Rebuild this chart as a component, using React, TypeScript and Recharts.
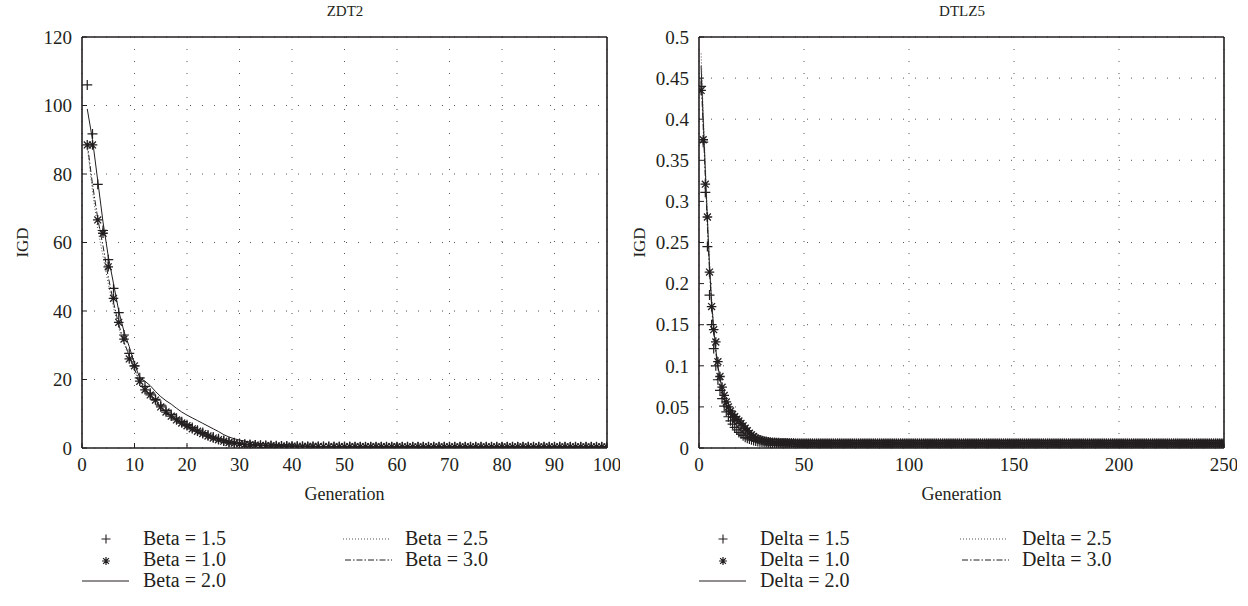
import { CartesianGrid, Label, Line, LineChart, XAxis, YAxis } from 'recharts'

const FONT = '"Liberation Serif", "Times New Roman", serif'
const INK = '#231f20'

// ZDT2 panel: IGD per generation (1..100), first 40 generations read per series, then the shared flat tail
const zdt2Beta15Head = [
  106, 91.7, 77, 63.5, 55, 46.6, 39.5, 33, 27.6, 24,
  20.5, 18, 16, 14.2, 12.5, 11, 9.8, 8.7, 7.7, 6.8,
  6, 5.2, 4.5, 3.8, 3.2, 2.7, 2.2, 1.8, 1.5, 1.3,
  1.1, 1.0, 0.9, 0.8, 0.75, 0.7, 0.65, 0.6, 0.55, 0.5,
]
const zdt2Beta10Head = [
  88.5, 88.5, 66.6, 62.7, 52.9, 43.7, 36.7, 31.8, 26, 24,
  19.5, 17, 15.5, 14, 12, 10.5, 9.3, 8.2, 7.3, 6.5,
  5.6, 4.9, 4.2, 3.5, 2.9, 2.4, 2.0, 1.6, 1.4, 1.2,
  1.05, 0.95, 0.85, 0.75, 0.7, 0.65, 0.6, 0.55, 0.5, 0.5,
]
const zdt2Beta20Head = [
  99, 90, 78, 66, 56, 48, 40, 34, 29.6, 24.5,
  20.5, 19.5, 18.2, 16.5, 15, 13.8, 12.8, 11.6, 10.5, 9.6,
  8.8, 8, 7.2, 6.4, 5.6, 4.8, 3.9, 3.2, 2.7, 2.3,
  2.0, 1.7, 1.5, 1.3, 1.2, 1.1, 1.0, 0.95, 0.9, 0.85,
]
const zdt2Beta25Head = [
  88, 75, 64, 56, 48, 41, 35, 30.5, 26.5, 22.5,
  19, 16.5, 14.8, 13.2, 11.6, 10.2, 9, 8, 7, 6.2,
  5.4, 4.7, 4, 3.4, 2.8, 2.3, 1.9, 1.6, 1.3, 1.1,
  0.95, 0.85, 0.75, 0.7, 0.65, 0.6, 0.55, 0.5, 0.5, 0.45,
]
const zdt2Beta30Head = [
  89, 77, 67, 59, 50, 42.5, 36, 31, 27, 23,
  19.5, 17, 15.2, 13.6, 12, 10.6, 9.4, 8.3, 7.3, 6.4,
  5.6, 4.9, 4.2, 3.6, 3.0, 2.5, 2.1, 1.7, 1.4, 1.2,
  1.0, 0.9, 0.8, 0.72, 0.66, 0.6, 0.56, 0.52, 0.5, 0.48,
]
const zdt2Tail = [
  0.48, 0.46, 0.45, 0.44, 0.43, 0.42, 0.41, 0.4, 0.4, 0.39,
  0.39, 0.38, 0.38, 0.37, 0.37, 0.37, 0.36, 0.36, 0.36, 0.36,
  0.35, 0.35, 0.35, 0.35, 0.35, 0.35, 0.35, 0.35, 0.35, 0.35,
  0.35, 0.35, 0.35, 0.35, 0.35, 0.35, 0.35, 0.35, 0.35, 0.35,
  0.35, 0.35, 0.35, 0.35, 0.35, 0.35, 0.35, 0.35, 0.35, 0.35,
  0.35, 0.35, 0.35, 0.35, 0.35, 0.35, 0.35, 0.35, 0.35, 0.35,
]

// DTLZ5 panel: IGD per generation (1..250), first 45 generations read per series, then the shared flat tail
const dtlz5Delta15Head = [
  0.44, 0.372, 0.311, 0.245, 0.186, 0.15, 0.121, 0.1, 0.083, 0.07,
  0.06, 0.051, 0.044, 0.038, 0.033, 0.029, 0.025, 0.022, 0.019, 0.017,
  0.015, 0.013, 0.012, 0.011, 0.01, 0.0092, 0.0085, 0.008, 0.0076, 0.0072,
  0.0069, 0.0066, 0.0064, 0.0062, 0.006, 0.006, 0.0059, 0.0058, 0.0058, 0.0057,
  0.0057, 0.0056, 0.0056, 0.0055, 0.0055,
]
const dtlz5Delta10Head = [
  0.435, 0.375, 0.321, 0.281, 0.214, 0.172, 0.144, 0.129, 0.105, 0.087,
  0.074, 0.064, 0.056, 0.05, 0.045, 0.041, 0.038, 0.035, 0.033, 0.03,
  0.027, 0.024, 0.021, 0.018, 0.016, 0.014, 0.012, 0.011, 0.01, 0.0092,
  0.0085, 0.008, 0.0075, 0.0072, 0.007, 0.0068, 0.0066, 0.0065, 0.0064, 0.0063,
  0.0062, 0.0062, 0.0061, 0.0061, 0.006,
]
const dtlz5Delta20Head = [
  0.465, 0.4, 0.338, 0.278, 0.222, 0.178, 0.146, 0.12, 0.1, 0.085,
  0.072, 0.062, 0.053, 0.046, 0.04, 0.035, 0.031, 0.027, 0.024, 0.021,
  0.019, 0.017, 0.015, 0.013, 0.012, 0.011, 0.01, 0.0092, 0.0085, 0.008,
  0.0076, 0.0072, 0.0069, 0.0066, 0.0064, 0.0062, 0.006, 0.0059, 0.0058, 0.0057,
  0.0056, 0.0056, 0.0055, 0.0055, 0.0055,
]
const dtlz5Delta25Head = [
  0.48, 0.41, 0.345, 0.285, 0.228, 0.182, 0.148, 0.122, 0.101, 0.086,
  0.073, 0.063, 0.054, 0.047, 0.041, 0.036, 0.032, 0.028, 0.025, 0.022,
  0.02, 0.018, 0.016, 0.014, 0.012, 0.011, 0.01, 0.0093, 0.0086, 0.008,
  0.0076, 0.0072, 0.0069, 0.0066, 0.0064, 0.0062, 0.006, 0.0059, 0.0058, 0.0057,
  0.0056, 0.0056, 0.0055, 0.0055, 0.0055,
]
const dtlz5Delta30Head = [
  0.45, 0.39, 0.33, 0.27, 0.215, 0.172, 0.14, 0.116, 0.097, 0.082,
  0.07, 0.06, 0.052, 0.045, 0.039, 0.034, 0.03, 0.026, 0.023, 0.02,
  0.018, 0.016, 0.014, 0.013, 0.012, 0.011, 0.01, 0.0092, 0.0085, 0.008,
  0.0075, 0.0071, 0.0068, 0.0065, 0.0063, 0.0061, 0.006, 0.0059, 0.0058, 0.0057,
  0.0056, 0.0056, 0.0055, 0.0055, 0.0055,
]
const dtlz5Tail = [
  0.0055, 0.0055, 0.0055, 0.0055, 0.0055, 0.0055, 0.0055, 0.0055, 0.0055, 0.0055,
  0.0055, 0.0055, 0.0055, 0.0055, 0.0055, 0.0055, 0.0055, 0.0055, 0.0055, 0.0055,
  0.0055, 0.0055, 0.0055, 0.0055, 0.0055, 0.0055, 0.0055, 0.0055, 0.0055, 0.0055,
  0.0055, 0.0055, 0.0055, 0.0055, 0.0055, 0.0055, 0.0055, 0.0055, 0.0055, 0.0055,
  0.0055, 0.0055, 0.0055, 0.0055, 0.0055, 0.0055, 0.0055, 0.0055, 0.0055, 0.0055,
  0.0055, 0.0055, 0.0055, 0.0055, 0.0055, 0.0055, 0.0055, 0.0055, 0.0055, 0.0055,
  0.0055, 0.0055, 0.0055, 0.0055, 0.0055, 0.0055, 0.0055, 0.0055, 0.0055, 0.0055,
  0.0055, 0.0055, 0.0055, 0.0055, 0.0055, 0.0055, 0.0055, 0.0055, 0.0055, 0.0055,
  0.0055, 0.0055, 0.0055, 0.0055, 0.0055, 0.0055, 0.0055, 0.0055, 0.0055, 0.0055,
  0.0055, 0.0055, 0.0055, 0.0055, 0.0055, 0.0055, 0.0055, 0.0055, 0.0055, 0.0055,
  0.0055, 0.0055, 0.0055, 0.0055, 0.0055, 0.0055, 0.0055, 0.0055, 0.0055, 0.0055,
  0.0055, 0.0055, 0.0055, 0.0055, 0.0055, 0.0055, 0.0055, 0.0055, 0.0055, 0.0055,
  0.0055, 0.0055, 0.0055, 0.0055, 0.0055, 0.0055, 0.0055, 0.0055, 0.0055, 0.0055,
  0.0055, 0.0055, 0.0055, 0.0055, 0.0055, 0.0055, 0.0055, 0.0055, 0.0055, 0.0055,
  0.0055, 0.0055, 0.0055, 0.0055, 0.0055, 0.0055, 0.0055, 0.0055, 0.0055, 0.0055,
  0.0055, 0.0055, 0.0055, 0.0055, 0.0055, 0.0055, 0.0055, 0.0055, 0.0055, 0.0055,
  0.0055, 0.0055, 0.0055, 0.0055, 0.0055, 0.0055, 0.0055, 0.0055, 0.0055, 0.0055,
  0.0055, 0.0055, 0.0055, 0.0055, 0.0055, 0.0055, 0.0055, 0.0055, 0.0055, 0.0055,
  0.0055, 0.0055, 0.0055, 0.0055, 0.0055, 0.0055, 0.0055, 0.0055, 0.0055, 0.0055,
  0.0055, 0.0055, 0.0055, 0.0055, 0.0055, 0.0055, 0.0055, 0.0055, 0.0055, 0.0055,
  0.0055, 0.0055, 0.0055, 0.0055, 0.0055,
]

const zdt2XTicks = [0, 10, 20, 30, 40, 50, 60, 70, 80, 90, 100]
const zdt2YTicks = [0, 20, 40, 60, 80, 100, 120]
const dtlz5XTicks = [0, 50, 100, 150, 200, 250]
const dtlz5YTicks = [0, 0.05, 0.1, 0.15, 0.2, 0.25, 0.3, 0.35, 0.4, 0.45, 0.5]

const betaLabels = ['Beta = 1.5', 'Beta = 1.0', 'Beta = 2.0', 'Beta = 2.5', 'Beta = 3.0']
const deltaLabels = ['Delta = 1.5', 'Delta = 1.0', 'Delta = 2.0', 'Delta = 2.5', 'Delta = 3.0']

type Kind = 'plus' | 'star' | 'solid' | 'dotted' | 'dashdot'
const kinds: Kind[] = ['plus', 'star', 'solid', 'dotted', 'dashdot']

type Series = { key: string; label: string; kind: Kind; values: number[] }

const plusPath = (x: number, y: number, r: number) => `M${x - r},${y}H${x + r}M${x},${y - r}V${y + r}`
const starPath = (x: number, y: number, r: number) => {
  const d = r * 0.72
  return `M${x - r},${y}H${x + r}M${x},${y - r}V${y + r}M${x - d},${y - d}L${x + d},${y + d}M${x - d},${y + d}L${x + d},${y - d}`
}

const renderPlus = (props: any) => {
  const { cx, cy, index } = props
  if (cx == null || cy == null) return <g key={`p${index}`} />
  return <path key={`p${index}`} d={plusPath(cx, cy, 5)} stroke={INK} strokeWidth={1.2} fill="none" />
}

const renderStar = (props: any) => {
  const { cx, cy, index } = props
  if (cx == null || cy == null) return <g key={`s${index}`} />
  return <path key={`s${index}`} d={starPath(cx, cy, 4.8)} stroke={INK} strokeWidth={1.3} fill="none" />
}

const dashFor: Record<Kind, string | undefined> = {
  plus: undefined,
  star: undefined,
  solid: undefined,
  dotted: '1 2',
  dashdot: '6 2 1.5 2',
}

const PanelText = ({ title, series }: { title: string; series: Series[] }) => {
  const slots = [
    { sx: 106, tx: 143, y: 545 },
    { sx: 106, tx: 143, y: 566 },
    { sx: 106, tx: 143, y: 587 },
    { sx: 367, tx: 405, y: 545 },
    { sx: 369, tx: 405, y: 566 },
  ]
  return (
    <svg width={620} height={606} style={{ position: 'absolute', left: 0, top: 0, pointerEvents: 'none' }}>
      <text x={345} y={16} fontSize={15} fill={INK} fontFamily={FONT} textAnchor="middle">
        {title}
      </text>
      {series.map((s, i) => {
        const slot = slots[i]
        const cy = slot.y - 6
        let symbol = null
        if (s.kind === 'plus') symbol = <path d={plusPath(slot.sx, cy, 4.5)} stroke={INK} strokeWidth={1.1} fill="none" />
        else if (s.kind === 'star') symbol = <path d={starPath(slot.sx, cy + 1, 4)} stroke={INK} strokeWidth={1.2} fill="none" />
        else symbol = (
          <line
            x1={slot.sx - 24}
            x2={slot.sx + 23}
            y1={cy}
            y2={cy}
            stroke={s.kind === 'dotted' ? '#555' : INK}
            strokeWidth={1}
            strokeDasharray={dashFor[s.kind]}
          />
        )
        return (
          <g key={s.key}>
            {symbol}
            <text x={slot.tx} y={slot.y} fontSize={20} fill={INK} fontFamily={FONT}>
              {s.label}
            </text>
          </g>
        )
      })}
    </svg>
  )
}

type PanelProps = {
  title: string
  left: number
  xMax: number
  xTicks: number[]
  yMax: number
  yTicks: number[]
  series: Series[]
}

const Panel = ({ title, left, xMax, xTicks, yMax, yTicks, series }: PanelProps) => {
  const data = series[0].values.map((_, i) => {
    const row: Record<string, number> = { gen: i + 1 }
    series.forEach((s) => {
      row[s.key] = s.values[i]
    })
    return row
  })
  const axisLine = { stroke: INK, strokeWidth: 1.6 }
  const tickLine = { stroke: INK, strokeWidth: 1 }
  const lineSeries = series.filter((s) => s.kind === 'solid' || s.kind === 'dotted' || s.kind === 'dashdot')
  const markerSeries = series.filter((s) => s.kind === 'plus' || s.kind === 'star')

  return (
    <div style={{ position: 'absolute', left, top: 0, width: 620, height: 606 }}>
      <LineChart
        width={620}
        height={510}
        data={data}
        margin={{ top: 36, right: 12, left: 12, bottom: 2 }}
        style={{ fontFamily: FONT }}
      >
        <CartesianGrid stroke="#555" strokeDasharray="1 11" />
        <XAxis
          type="number"
          dataKey="gen"
          domain={[0, xMax]}
          ticks={xTicks}
          interval={0}
          allowDataOverflow
          height={60}
          tickSize={-5}
          tickMargin={15}
          axisLine={axisLine}
          tickLine={tickLine}
          tick={{ fill: INK, fontSize: 19 }}
        >
          <Label value="Generation" position="insideBottom" offset={8} fill={INK} fontSize={18} />
        </XAxis>
        <XAxis
          xAxisId="top"
          orientation="top"
          type="number"
          dataKey="gen"
          domain={[0, xMax]}
          ticks={xTicks}
          interval={0}
          height={1}
          tickSize={-5}
          tick={false}
          axisLine={axisLine}
          tickLine={tickLine}
        />
        <YAxis
          type="number"
          domain={[0, yMax]}
          ticks={yTicks}
          interval={0}
          allowDataOverflow
          width={70}
          tickSize={-5}
          tickMargin={15}
          axisLine={axisLine}
          tickLine={tickLine}
          tick={{ fill: INK, fontSize: 19 }}
        >
          <Label
            value="IGD"
            angle={-90}
            position="insideLeft"
            offset={10}
            fill={INK}
            fontSize={17}
            style={{ textAnchor: 'middle' }}
          />
        </YAxis>
        <YAxis
          yAxisId="right"
          orientation="right"
          type="number"
          domain={[0, yMax]}
          ticks={yTicks}
          interval={0}
          width={1}
          tickSize={-5}
          tick={false}
          axisLine={axisLine}
          tickLine={tickLine}
        />
        {lineSeries.map((s) => (
          <Line
            key={s.key}
            dataKey={s.key}
            type="linear"
            stroke={s.kind === 'dotted' ? '#555' : INK}
            strokeWidth={1}
            strokeDasharray={dashFor[s.kind]}
            dot={false}
            activeDot={false}
            isAnimationActive={false}
          />
        ))}
        {markerSeries.map((s) => (
          <Line
            key={s.key}
            dataKey={s.key}
            type="linear"
            stroke="none"
            dot={s.kind === 'plus' ? renderPlus : renderStar}
            activeDot={false}
            isAnimationActive={false}
          />
        ))}
      </LineChart>
      <PanelText title={title} series={series} />
    </div>
  )
}

const zdt2Series: Series[] = [
  [...zdt2Beta15Head, ...zdt2Tail],
  [...zdt2Beta10Head, ...zdt2Tail],
  [...zdt2Beta20Head, ...zdt2Tail],
  [...zdt2Beta25Head, ...zdt2Tail],
  [...zdt2Beta30Head, ...zdt2Tail],
].map((values, i) => ({ key: `b${i}`, label: betaLabels[i], kind: kinds[i], values }))

const dtlz5Series: Series[] = [
  [...dtlz5Delta15Head, ...dtlz5Tail],
  [...dtlz5Delta10Head, ...dtlz5Tail],
  [...dtlz5Delta20Head, ...dtlz5Tail],
  [...dtlz5Delta25Head, ...dtlz5Tail],
  [...dtlz5Delta30Head, ...dtlz5Tail],
].map((values, i) => ({ key: `d${i}`, label: deltaLabels[i], kind: kinds[i], values }))

const App = () => (
  <div style={{ position: 'absolute', left: 0, top: 0, width: 1248, height: 606, background: '#fff' }}>
    <Panel title="ZDT2" left={0} xMax={100} xTicks={zdt2XTicks} yMax={120} yTicks={zdt2YTicks} series={zdt2Series} />
    <Panel title="DTLZ5" left={617} xMax={250} xTicks={dtlz5XTicks} yMax={0.5} yTicks={dtlz5YTicks} series={dtlz5Series} />
  </div>
)

export default App
